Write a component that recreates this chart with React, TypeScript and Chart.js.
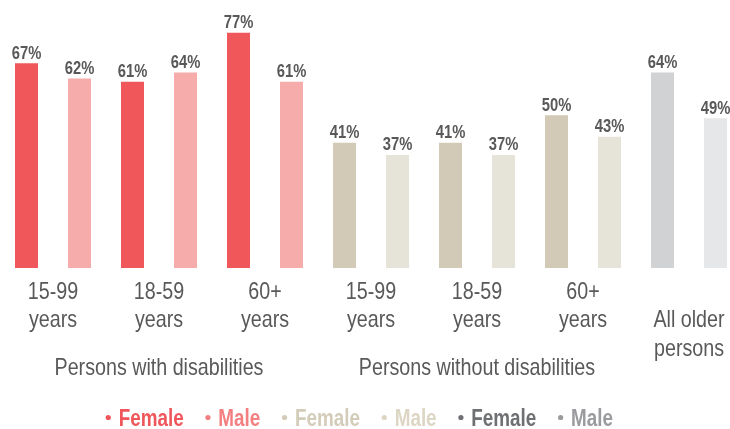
import React, { useEffect, useRef } from "react";
import { Chart, registerables } from "chart.js";

Chart.register(...registerables);

const categories: string[][] = [
  ["15-99", "years"],
  ["18-59", "years"],
  ["60+", "years"],
  ["15-99", "years"],
  ["18-59", "years"],
  ["60+", "years"],
  ["", "All older", "persons"],
];
const femaleValues = [67, 61, 77, 41, 41, 50, 64];
const maleValues = [62, 64, 61, 37, 37, 43, 49];
const femaleColors = ["#ef575b", "#ef575b", "#ef575b", "#d2cab6", "#d2cab6", "#d2cab6", "#d1d2d4"];
const maleColors = ["#f6acab", "#f6acab", "#f6acab", "#e6e3d8", "#e6e3d8", "#e6e3d8", "#e6e7e9"];
const groupLabels = ["Persons with disabilities", "Persons without disabilities"];
const groupCenterIndex = [1, 4];
const legendTexts = ["Female", "Male", "Female", "Male", "Female", "Male"];
const legendColors = ["#ef575b", "#f37f80", "#d3ccb9", "#ddd6c4", "#6f7073", "#9a9b9e"];

const FONT = "'Liberation Sans', Arial, sans-serif";
const TEXT = "#595959";
const NARROW = 0.82;

function narrowText(ctx: CanvasRenderingContext2D, text: string, x: number, y: number) {
  ctx.save();
  ctx.translate(x, y);
  ctx.scale(NARROW, 1);
  ctx.fillText(text, 0, 0);
  ctx.restore();
}

const labelsPlugin = {
  id: "customText",
  afterDatasetsDraw(chart: any) {
    const ctx: CanvasRenderingContext2D = chart.ctx;
    ctx.save();
    // value labels
    ctx.font = `bold 18px ${FONT}`;
    ctx.fillStyle = TEXT;
    ctx.textAlign = "center";
    ctx.textBaseline = "alphabetic";
    chart.data.datasets.forEach((ds: any, di: number) => {
      const meta = chart.getDatasetMeta(di);
      meta.data.forEach((el: any, i: number) => {
        narrowText(ctx, `${ds.data[i]}%`, el.x, el.y - 4.5);
      });
    });
    // category tick labels
    const xs = chart.scales.x;
    ctx.font = `24px ${FONT}`;
    const lineBaselines = [299, 327, 356];
    categories.forEach((lines, i) => {
      const px = xs.getPixelForValue(i);
      lines.forEach((t, li) => {
        if (t) narrowText(ctx, t, px, lineBaselines[li]);
      });
    });
    // group labels
    groupLabels.forEach((g, i) => {
      narrowText(ctx, g, xs.getPixelForValue(groupCenterIndex[i]), 375);
    });
    // legend
    ctx.font = `bold 23px ${FONT}`;
    ctx.textAlign = "left";
    const bulletR = 2.6;
    const bulletGap = 13;
    const itemGap = 21.7;
    const widths = legendTexts.map((t) => bulletGap + ctx.measureText(t).width * NARROW);
    const total = widths.reduce((a, b) => a + b, 0) + itemGap * (legendTexts.length - 1);
    let x = 359.3 - total / 2;
    const baseline = 426;
    legendTexts.forEach((t, i) => {
      ctx.fillStyle = legendColors[i];
      ctx.beginPath();
      ctx.arc(x + bulletR, baseline - 8.5, bulletR, 0, Math.PI * 2);
      ctx.fill();
      narrowText(ctx, t, x + bulletGap, baseline);
      x += widths[i] + itemGap;
    });
    ctx.restore();
  },
};

export default function App() {
  const ref = useRef<HTMLCanvasElement>(null);
  useEffect(() => {
    if (!ref.current) return;
    const chart = new Chart(ref.current, {
      type: "bar",
      data: {
        labels: categories,
        datasets: [
          {
            label: "Female",
            data: femaleValues,
            backgroundColor: femaleColors,
            categoryPercentage: 1,
            barPercentage: 0.434,
            clip: false as any,
          },
          {
            label: "Male",
            data: maleValues,
            backgroundColor: maleColors,
            categoryPercentage: 1,
            barPercentage: 0.434,
            clip: false as any,
          },
        ],
      },
      options: {
        animation: false,
        responsive: true,
        maintainAspectRatio: false,
        layout: { padding: { left: 53, right: 41, top: 23.6, bottom: 0 } },
        plugins: { legend: { display: false }, tooltip: { enabled: false } },
        scales: {
          x: {
            offset: false,
            grid: { display: false },
            border: { display: false },
            ticks: { display: false },
            afterFit(scale: any) {
              scale.height = 161;
            },
          },
          y: {
            display: false,
            min: 0,
            max: 80,
          },
        },
      },
      plugins: [labelsPlugin],
    });
    return () => chart.destroy();
  }, []);
  return (
    <div style={{ position: "absolute", left: 0, top: 0, width: 730, height: 429 }}>
      <canvas ref={ref} />
    </div>
  );
}
